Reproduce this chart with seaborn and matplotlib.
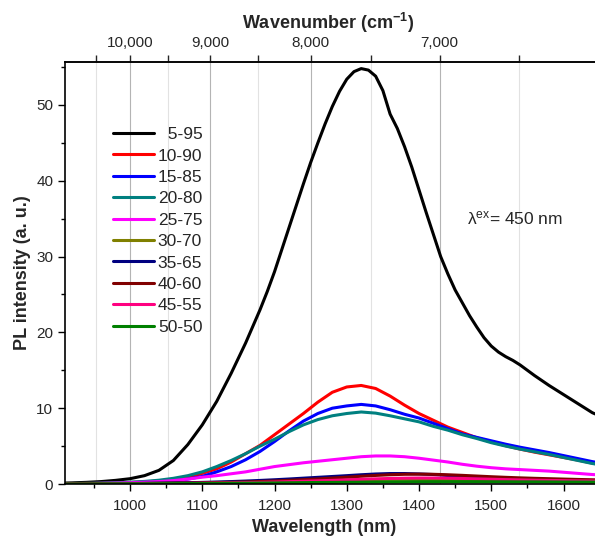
import numpy as np
import pandas as pd
import matplotlib
matplotlib.use("Agg")
import matplotlib.pyplot as plt
import seaborn as sns
from matplotlib.ticker import MultipleLocator, FixedLocator

# ---------------- data ----------------
wavelength = list(range(900, 1661, 20))  # nm, grid for the weaker spectra

# the strong 5-95 spectrum is read more densely around its peak
wl_5_95 = [900, 920, 940, 960, 980, 1000, 1020, 1040, 1060, 1080, 1100, 1120, 1140, 1160, 1180,
           1190, 1200, 1210, 1220, 1230, 1240, 1250, 1260, 1270, 1280, 1290, 1300, 1310, 1320,
           1330, 1340, 1350, 1360, 1370, 1380, 1390, 1400, 1410, 1420, 1430, 1440, 1450,
           1460, 1470, 1480, 1490, 1500, 1510, 1520, 1530, 1540, 1560, 1580, 1600, 1620, 1640, 1660]
s_5_95 = [0.10, 0.15, 0.22, 0.32, 0.48, 0.70, 1.10, 1.80, 3.10, 5.20, 7.80, 10.9, 14.6, 18.6, 23.0,
          25.4, 28.0, 30.9, 33.8, 36.7, 39.6, 42.4, 45.0, 47.5, 49.8, 51.8, 53.4, 54.4, 54.8,
          54.6, 53.8, 51.9, 48.8, 46.9, 44.5, 41.8, 38.8, 35.8, 32.9, 30.0, 27.7, 25.6,
          23.9, 22.2, 20.7, 19.3, 18.2, 17.4, 16.8, 16.3, 15.7, 14.3, 13.0, 11.8, 10.6, 9.4, 8.6]

s_10_90 = [0.03, 0.05, 0.08, 0.10, 0.14, 0.20, 0.28, 0.40, 0.60, 0.90, 1.4, 2.0, 2.9, 4.0, 5.1, 6.5,
           7.9, 9.3, 10.8, 12.1, 12.8, 13.0, 12.6, 11.6, 10.4, 9.3, 8.4, 7.5, 6.8, 6.1, 5.55, 5.05,
           4.6, 4.2, 3.85, 3.5, 3.15, 2.75, 2.45]
s_15_85 = [0.03, 0.04, 0.06, 0.08, 0.11, 0.15, 0.20, 0.28, 0.40, 0.65, 1.0, 1.6, 2.3, 3.2, 4.3, 5.6,
           7.0, 8.3, 9.3, 10.0, 10.3, 10.5, 10.3, 9.8, 9.2, 8.7, 8.0, 7.3, 6.6, 6.15, 5.7, 5.25,
           4.85, 4.5, 4.15, 3.75, 3.35, 2.95, 2.65]
s_20_80 = [0.04, 0.06, 0.09, 0.12, 0.17, 0.24, 0.34, 0.50, 0.75, 1.1, 1.6, 2.3, 3.1, 4.0, 5.0, 5.9,
           6.9, 7.8, 8.5, 9.0, 9.3, 9.5, 9.35, 9.0, 8.6, 8.2, 7.6, 7.1, 6.5, 6.0, 5.45, 5.0,
           4.6, 4.25, 3.9, 3.5, 3.1, 2.7, 2.4]
s_25_75 = [0.02, 0.03, 0.05, 0.08, 0.12, 0.17, 0.24, 0.32, 0.45, 0.65, 0.9, 1.1, 1.35, 1.6, 1.95, 2.3,
           2.55, 2.8, 3.0, 3.2, 3.4, 3.6, 3.7, 3.7, 3.6, 3.4, 3.15, 2.9, 2.6, 2.35, 2.15, 2.0,
           1.9, 1.8, 1.7, 1.55, 1.4, 1.25, 1.15]
s_30_70 = [0.01, 0.01, 0.02, 0.03, 0.04, 0.05, 0.07, 0.09, 0.12, 0.15, 0.18, 0.21, 0.24, 0.28, 0.32, 0.36,
           0.40, 0.44, 0.48, 0.52, 0.55, 0.58, 0.60, 0.61, 0.61, 0.60, 0.58, 0.55, 0.52, 0.49, 0.46, 0.43,
           0.40, 0.37, 0.35, 0.33, 0.31, 0.29, 0.27]
s_35_65 = [0.01, 0.02, 0.03, 0.04, 0.05, 0.07, 0.09, 0.11, 0.14, 0.17, 0.21, 0.26, 0.32, 0.39, 0.47, 0.56,
           0.66, 0.77, 0.88, 0.99, 1.10, 1.22, 1.32, 1.38, 1.38, 1.33, 1.25, 1.12, 0.98, 0.86, 0.76, 0.67,
           0.60, 0.54, 0.50, 0.46, 0.43, 0.40, 0.38]
s_40_60 = [0.01, 0.01, 0.02, 0.03, 0.04, 0.05, 0.06, 0.08, 0.10, 0.12, 0.15, 0.18, 0.22, 0.27, 0.33, 0.40,
           0.48, 0.57, 0.67, 0.78, 0.90, 1.02, 1.13, 1.22, 1.28, 1.30, 1.28, 1.22, 1.14, 1.05, 0.96, 0.88,
           0.81, 0.75, 0.70, 0.65, 0.60, 0.56, 0.53]
s_45_55 = [0.01, 0.01, 0.01, 0.02, 0.02, 0.03, 0.04, 0.05, 0.06, 0.08, 0.10, 0.12, 0.15, 0.18, 0.22, 0.26,
           0.31, 0.36, 0.42, 0.48, 0.55, 0.62, 0.68, 0.73, 0.77, 0.79, 0.79, 0.77, 0.73, 0.68, 0.63, 0.58,
           0.54, 0.50, 0.47, 0.44, 0.41, 0.39, 0.37]
s_50_50 = [0.01, 0.01, 0.01, 0.02, 0.02, 0.03, 0.03, 0.04, 0.05, 0.06, 0.07, 0.08, 0.10, 0.11, 0.13, 0.14,
           0.16, 0.18, 0.20, 0.21, 0.23, 0.24, 0.26, 0.27, 0.28, 0.29, 0.30, 0.30, 0.30, 0.30, 0.29, 0.29,
           0.28, 0.28, 0.27, 0.26, 0.26, 0.25, 0.24]

series_names = ["5-95", "10-90", "15-85", "20-80", "25-75", "30-70", "35-65", "40-60", "45-55", "50-50"]
series_wl = [wl_5_95] + [wavelength] * 9
series_values = [s_5_95, s_10_90, s_15_85, s_20_80, s_25_75, s_30_70, s_35_65, s_40_60, s_45_55, s_50_50]
colors = ["#000000", "#ff0000", "#0000ff", "#008080", "#ff00ff", "#808000",
          "#000080", "#800000", "#ff0080", "#008000"]

xticks_major = [1000, 1100, 1200, 1300, 1400, 1500, 1600]
yticks_major = [0, 10, 20, 30, 40, 50]
wn_major = [10000, 9000, 8000, 7000]
wn_minor = [10500, 9500, 8500, 7500, 6500]
wn_labels = ["10,000", "9,000", "8,000", "7,000"]

# ---------------- style ----------------
sns.set_style("ticks")
plt.rcParams["font.family"] = ["Liberation Sans", "DejaVu Sans"]
plt.rcParams["mathtext.fontset"] = "custom"
plt.rcParams["mathtext.rm"] = "Liberation Sans"
plt.rcParams["mathtext.it"] = "Liberation Sans:italic"
plt.rcParams["mathtext.bf"] = "Liberation Sans:bold"

rows = []
for name, wls, vals in zip(series_names, series_wl, series_values):
    for w, v in zip(wls, vals):
        rows.append((w, v, name))
df = pd.DataFrame(rows, columns=["wavelength", "intensity", "sample"])

fig = plt.figure(figsize=(5.95, 5.36), dpi=100)
ax = fig.add_axes([65 / 595, 52 / 536, 530 / 595, 422 / 536])

# vertical grid lines at the wavenumber ticks
for wn in wn_major:
    ax.axvline(1e7 / wn, color="#b4b4b4", lw=0.8, zorder=0)
for wn in wn_minor:
    ax.axvline(1e7 / wn, color="#e2e2e2", lw=0.8, zorder=0)

sns.lineplot(data=df, x="wavelength", y="intensity", hue="sample",
             hue_order=series_names, palette=colors, linewidth=2.2, ax=ax,
             legend=False, sort=False)

ax.set_xlim(910, 1643.6)
ax.set_ylim(0, 55.67)
ax.xaxis.set_major_locator(FixedLocator(xticks_major))
ax.xaxis.set_minor_locator(MultipleLocator(50))
ax.yaxis.set_major_locator(FixedLocator(yticks_major))
ax.yaxis.set_minor_locator(MultipleLocator(5))
ax.tick_params(which="major", direction="out", length=5, width=1.0, labelsize=11, color="black")
ax.tick_params(which="minor", direction="out", length=3, width=1.0, color="black")
ax.tick_params(axis="x", which="major", pad=6)
ax.tick_params(axis="x", top=False)
ax.tick_params(axis="y", right=False)
for side in ["left", "bottom", "top"]:
    ax.spines[side].set_linewidth(1.2)
    ax.spines[side].set_color("black")
ax.spines["right"].set_visible(False)

ax.set_xlabel("Wavelength (nm)", fontsize=13, fontweight="bold", labelpad=4)
ax.xaxis.label.set_x(0.488)
ax.set_ylabel("PL intensity (a. u.)", fontsize=13, fontweight="bold", labelpad=4)

# top wavenumber axis
inv = lambda x: 1e7 / np.asarray(x, dtype=float)
sec = ax.secondary_xaxis("top", functions=(inv, inv))
sec.set_xticks(wn_major)
sec.set_xticklabels(wn_labels)
sec.xaxis.set_minor_locator(FixedLocator(wn_minor))
sec.tick_params(which="major", direction="out", length=5, width=1.0, labelsize=11)
sec.tick_params(which="minor", direction="out", length=5, width=1.0)
sec.spines["top"].set_linewidth(1.2)
sec.set_xlabel(r"Wavenumber (cm$^{\mathbf{-1}}$)", fontsize=13, fontweight="bold", labelpad=5)
sec.xaxis.label.set_x(0.496)

# legend
handles = [plt.Line2D([], [], color=c, lw=2.2) for c in colors]
labels = ["  " + n if len(n) == 4 else n for n in series_names]
ax.legend(handles, labels, loc="upper left", bbox_to_anchor=(0.09, 0.846),
          frameon=False, fontsize=12.5, handlelength=2.4, handletextpad=0.2,
          labelspacing=0.36, borderpad=0, borderaxespad=0)

ax.text(0.758, 0.63, r"λ$^{\mathrm{ex}}$= 450 nm", transform=ax.transAxes,
        fontsize=12.5, va="center", ha="left")

fig.savefig("out.png", dpi=100)
